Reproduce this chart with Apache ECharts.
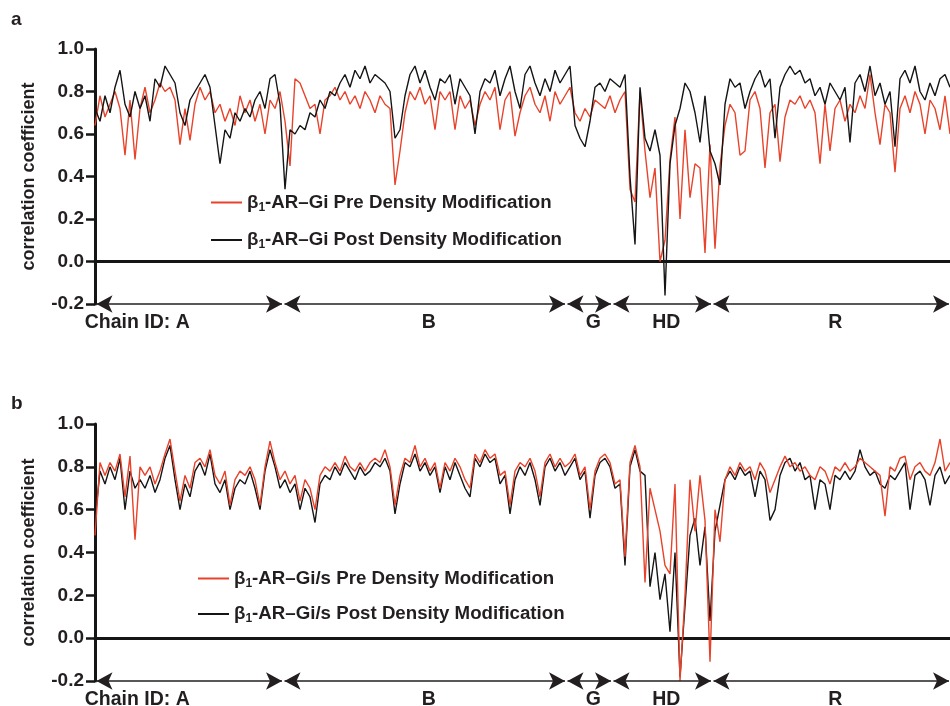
<!DOCTYPE html>
<html>
<head>
<meta charset="utf-8">
<style>
  html, body { margin: 0; padding: 0; background: #fff; }
  #chart { width: 950px; height: 706px; }
</style>
<script src="https://cdn.jsdelivr.net/npm/echarts@6/dist/echarts.min.js"></script>
</head>
<body>
<div id="chart"></div>
<script>
// residue index along the chain (one point per step)
const aPre = [
  0.64, 0.78, 0.68, 0.74, 0.80, 0.72, 0.50, 0.76, 0.48, 0.72,
  0.82, 0.70, 0.76, 0.84, 0.80, 0.82, 0.76, 0.55, 0.72, 0.57,
  0.74, 0.82, 0.76, 0.80, 0.70, 0.74, 0.66, 0.72, 0.64, 0.78,
  0.70, 0.76, 0.66, 0.74, 0.60, 0.76, 0.72, 0.80, 0.66, 0.45,
  0.86, 0.84, 0.78, 0.72, 0.74, 0.60, 0.76, 0.78, 0.82, 0.76,
  0.80, 0.74, 0.78, 0.72, 0.80, 0.76, 0.70, 0.78, 0.74, 0.72,
  0.36, 0.52, 0.70, 0.80, 0.76, 0.82, 0.74, 0.78, 0.62, 0.80,
  0.76, 0.80, 0.62, 0.78, 0.72, 0.76, 0.64, 0.74, 0.80, 0.76,
  0.82, 0.62, 0.76, 0.80, 0.59, 0.70, 0.78, 0.82, 0.74, 0.70,
  0.78, 0.66, 0.80, 0.74, 0.78, 0.82, 0.70, 0.66, 0.72, 0.68,
  0.76, 0.74, 0.72, 0.78, 0.70, 0.76, 0.80, 0.34, 0.28, 0.80,
  0.52, 0.30, 0.44, 0.00, 0.10, 0.48, 0.68, 0.20, 0.62, 0.30,
  0.46, 0.44, 0.04, 0.55, 0.06, 0.45, 0.64, 0.74, 0.70, 0.50,
  0.52, 0.76, 0.80, 0.72, 0.44, 0.70, 0.74, 0.47, 0.68, 0.76,
  0.74, 0.78, 0.72, 0.76, 0.70, 0.46, 0.74, 0.52, 0.72, 0.76,
  0.66, 0.74, 0.70, 0.78, 0.72, 0.88, 0.70, 0.55, 0.74, 0.70,
  0.42, 0.72, 0.78, 0.70, 0.80, 0.74, 0.60, 0.76, 0.72, 0.62,
  0.78, 0.60
];
const aPost = [
  0.72, 0.66, 0.78, 0.70, 0.82, 0.90, 0.74, 0.68, 0.80, 0.72,
  0.78, 0.66, 0.86, 0.82, 0.92, 0.88, 0.84, 0.70, 0.64, 0.76,
  0.80, 0.84, 0.88, 0.82, 0.64, 0.46, 0.62, 0.58, 0.70, 0.66,
  0.72, 0.68, 0.76, 0.80, 0.72, 0.86, 0.88, 0.74, 0.34, 0.62,
  0.60, 0.64, 0.62, 0.70, 0.68, 0.76, 0.72, 0.80, 0.78, 0.84,
  0.88, 0.82, 0.90, 0.86, 0.92, 0.84, 0.88, 0.86, 0.84, 0.80,
  0.58, 0.62, 0.78, 0.88, 0.92, 0.84, 0.90, 0.82, 0.76, 0.86,
  0.84, 0.88, 0.74, 0.86, 0.82, 0.78, 0.60, 0.80, 0.86, 0.84,
  0.90, 0.78, 0.86, 0.92, 0.80, 0.72, 0.88, 0.92, 0.84, 0.78,
  0.86, 0.80, 0.90, 0.84, 0.88, 0.92, 0.64, 0.58, 0.54, 0.66,
  0.82, 0.84, 0.80, 0.86, 0.84, 0.82, 0.88, 0.40, 0.08, 0.82,
  0.58, 0.52, 0.62, 0.50, -0.16, 0.46, 0.64, 0.72, 0.84, 0.80,
  0.70, 0.56, 0.78, 0.52, 0.46, 0.36, 0.74, 0.86, 0.82, 0.84,
  0.72, 0.80, 0.86, 0.90, 0.82, 0.86, 0.58, 0.82, 0.88, 0.92,
  0.88, 0.90, 0.84, 0.86, 0.78, 0.82, 0.74, 0.84, 0.80, 0.76,
  0.82, 0.56, 0.84, 0.88, 0.80, 0.92, 0.78, 0.84, 0.74, 0.80,
  0.54, 0.86, 0.90, 0.84, 0.92, 0.80, 0.76, 0.84, 0.78, 0.86,
  0.88, 0.82
];
const bPre = [
  0.48, 0.82, 0.76, 0.82, 0.78, 0.86, 0.66, 0.85, 0.46, 0.80,
  0.76, 0.80, 0.72, 0.78, 0.86, 0.93, 0.78, 0.64, 0.76, 0.70,
  0.82, 0.84, 0.80, 0.88, 0.76, 0.72, 0.78, 0.62, 0.74, 0.78,
  0.76, 0.80, 0.74, 0.62, 0.80, 0.92, 0.82, 0.74, 0.78, 0.72,
  0.76, 0.64, 0.74, 0.70, 0.60, 0.76, 0.80, 0.78, 0.82, 0.78,
  0.85, 0.80, 0.78, 0.82, 0.78, 0.82, 0.84, 0.82, 0.88, 0.80,
  0.62, 0.76, 0.84, 0.82, 0.90, 0.80, 0.84, 0.78, 0.82, 0.70,
  0.82, 0.78, 0.84, 0.80, 0.74, 0.70, 0.86, 0.82, 0.88, 0.84,
  0.86, 0.76, 0.78, 0.62, 0.78, 0.82, 0.80, 0.84, 0.78, 0.66,
  0.82, 0.86, 0.80, 0.84, 0.80, 0.82, 0.86, 0.76, 0.80, 0.60,
  0.78, 0.84, 0.86, 0.82, 0.72, 0.74, 0.38, 0.82, 0.90, 0.80,
  0.26, 0.70, 0.60, 0.50, 0.34, 0.30, 0.72, -0.20, 0.20, 0.74,
  0.50, 0.76, 0.55, -0.11, 0.60, 0.45, 0.74, 0.80, 0.76, 0.82,
  0.78, 0.80, 0.74, 0.82, 0.78, 0.68, 0.74, 0.80, 0.85, 0.80,
  0.82, 0.78, 0.80, 0.76, 0.74, 0.80, 0.78, 0.72, 0.80, 0.78,
  0.82, 0.78, 0.80, 0.84, 0.82, 0.80, 0.78, 0.76, 0.57, 0.80,
  0.78, 0.84, 0.85, 0.74, 0.80, 0.82, 0.78, 0.76, 0.82, 0.93,
  0.78, 0.82
];
const bPost = [
  0.55, 0.78, 0.72, 0.80, 0.74, 0.84, 0.60, 0.78, 0.70, 0.74,
  0.70, 0.76, 0.68, 0.74, 0.84, 0.90, 0.74, 0.60, 0.72, 0.66,
  0.78, 0.82, 0.76, 0.86, 0.72, 0.68, 0.74, 0.60, 0.70, 0.74,
  0.72, 0.78, 0.70, 0.60, 0.78, 0.88, 0.80, 0.70, 0.74, 0.68,
  0.72, 0.60, 0.70, 0.66, 0.54, 0.72, 0.76, 0.74, 0.80, 0.76,
  0.82, 0.78, 0.74, 0.80, 0.76, 0.78, 0.82, 0.80, 0.84, 0.78,
  0.58, 0.72, 0.82, 0.80, 0.86, 0.78, 0.82, 0.76, 0.80, 0.68,
  0.80, 0.74, 0.82, 0.76, 0.70, 0.66, 0.84, 0.80, 0.86, 0.82,
  0.84, 0.72, 0.76, 0.58, 0.74, 0.80, 0.76, 0.82, 0.74, 0.62,
  0.80, 0.84, 0.78, 0.82, 0.76, 0.80, 0.84, 0.74, 0.78, 0.56,
  0.76, 0.82, 0.84, 0.80, 0.70, 0.72, 0.34, 0.80, 0.88, 0.78,
  0.76, 0.24, 0.40, 0.18, 0.30, 0.03, 0.40, -0.18, 0.15, 0.48,
  0.56, 0.34, 0.52, 0.08, 0.50, 0.62, 0.74, 0.78, 0.74, 0.80,
  0.76, 0.78, 0.66, 0.78, 0.74, 0.55, 0.60, 0.76, 0.82, 0.84,
  0.78, 0.82, 0.74, 0.76, 0.60, 0.74, 0.72, 0.60, 0.76, 0.74,
  0.78, 0.74, 0.78, 0.88, 0.80, 0.76, 0.78, 0.72, 0.70, 0.76,
  0.74, 0.78, 0.82, 0.60, 0.76, 0.78, 0.74, 0.62, 0.76, 0.80,
  0.72, 0.76
];

// chain segments along the residue index
const chains = ['A', 'B', 'G', 'HD', 'R'];
const chainStart = [0.3, 37.9, 94.5, 103.7, 123.7];
const chainEnd = [37.4, 94.0, 103.2, 123.2, 170.8];
const yTicks = [-0.2, 0.0, 0.2, 0.4, 0.6, 0.8, 1.0];

const RED = '#e8432a';
const BLACK = '#151515';
const INK = '#231f20';
const FONT = '"Liberation Sans", Arial, Helvetica, sans-serif';

const chart = echarts.init(document.getElementById('chart'));

const toPoints = arr => arr.map((v, i) => [i, v]);

const legendLabel = name => {
  const rest = name.replace('β1', '');
  return '{t|β}{s|1}{t|' + rest + '}';
};

const chainMarks = () => ({
  silent: true,
  symbol: ['arrow', 'arrow'],
  symbolSize: [13, 16],
  lineStyle: { color: INK, width: 1.6, type: 'solid' },
  label: {
    show: true,
    position: 'insideMiddleBottom',
    distance: 9,
    color: INK,
    fontFamily: FONT,
    fontWeight: 'bold',
    fontSize: 19.5
  },
  data: chains.map((c, k) => [
    {
      coord: [chainStart[k], yTicks[0]],
      label: k === 0
        ? { formatter: 'Chain ID: A', offset: [-52, 0] }
        : { formatter: c, offset: [4, 0] }
    },
    { coord: [chainEnd[k], yTicks[0]] }
  ])
});

const xAxisFor = idx => ({
  type: 'value',
  gridIndex: idx,
  min: 0,
  max: 171,
  axisLine: { show: true, onZero: true, lineStyle: { color: BLACK, width: 3 } },
  axisTick: { show: false },
  axisLabel: { show: false },
  splitLine: { show: false }
});

const yAxisFor = idx => ({
  type: 'value',
  gridIndex: idx,
  min: yTicks[0],
  max: yTicks[yTicks.length - 1],
  interval: 0.2,
  name: 'correlation coefficient',
  nameLocation: 'middle',
  nameGap: 57,
  nameTextStyle: { color: INK, fontFamily: FONT, fontWeight: 'bold', fontSize: 18 },
  axisLine: { show: true, lineStyle: { color: BLACK, width: 3 } },
  axisTick: { show: true, length: 9, lineStyle: { color: BLACK, width: 2.5 } },
  axisLabel: {
    color: INK,
    fontFamily: FONT,
    fontWeight: 'bold',
    fontSize: 19,
    margin: 11,
    formatter: v => v.toFixed(1)
  },
  splitLine: { show: false }
});

const lineSeries = (name, color, data, idx, z) => ({
  name,
  type: 'line',
  xAxisIndex: idx,
  yAxisIndex: idx,
  data: toPoints(data),
  symbol: 'none',
  z,
  lineStyle: { color, width: 1.4 },
  itemStyle: { color },
  animation: false
});

const legendFor = (names, left, top, gap) => ({
  data: names,
  orient: 'vertical',
  left,
  top,
  itemWidth: 31,
  itemHeight: 12,
  itemGap: gap,
  icon: 'path://M0,5 L31,5 L31,7 L0,7 Z',
  formatter: legendLabel,
  textStyle: {
    color: INK,
    fontFamily: FONT,
    fontWeight: 'bold',
    fontSize: 18.7,
    rich: {
      t: { fontFamily: FONT, fontWeight: 'bold', fontSize: 18.7, color: INK },
      s: { fontFamily: FONT, fontWeight: 'bold', fontSize: 12, color: INK, padding: [10, 0, 0, 0] }
    }
  }
});

const aPreName = 'β1-AR–Gi Pre Density Modification';
const aPostName = 'β1-AR–Gi Post Density Modification';
const bPreName = 'β1-AR–Gi/s Pre Density Modification';
const bPostName = 'β1-AR–Gi/s Post Density Modification';

chart.setOption({
  backgroundColor: '#fff',
  animation: false,
  title: [
    { text: 'a', left: 6, top: 5, textStyle: { color: INK, fontFamily: FONT, fontWeight: 'bold', fontSize: 19 } },
    { text: 'b', left: 6, top: 389, textStyle: { color: INK, fontFamily: FONT, fontWeight: 'bold', fontSize: 19 } }
  ],
  grid: [
    { left: 95, right: 0, top: 49, height: 255 },
    { left: 95, right: 0, top: 424, height: 257 }
  ],
  xAxis: [xAxisFor(0), xAxisFor(1)],
  yAxis: [yAxisFor(0), yAxisFor(1)],
  legend: [
    legendFor([aPreName, aPostName], 206, 188, 17),
    legendFor([bPreName, bPostName], 193, 564, 15)
  ],
  series: [
    lineSeries(aPreName, RED, aPre, 0, 2),
    lineSeries(aPostName, BLACK, aPost, 0, 3),
    lineSeries(bPostName, BLACK, bPost, 1, 2),
    lineSeries(bPreName, RED, bPre, 1, 3),
    { type: 'line', name: 'chainsA', xAxisIndex: 0, yAxisIndex: 0, data: [], clip: false, markLine: chainMarks() },
    { type: 'line', name: 'chainsB', xAxisIndex: 1, yAxisIndex: 1, data: [], clip: false, markLine: chainMarks() }
  ]
});
</script>
</body>
</html>
